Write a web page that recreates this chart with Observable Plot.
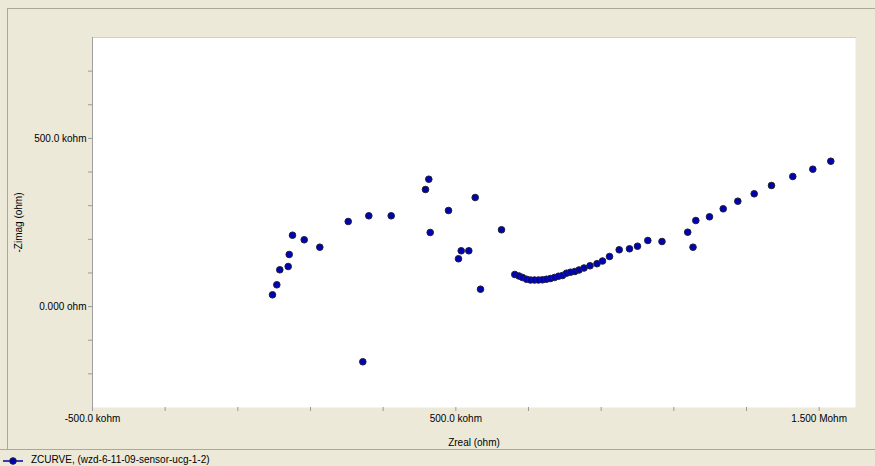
<!DOCTYPE html>
<html>
<head>
<meta charset="utf-8">
<script src="https://cdn.jsdelivr.net/npm/d3@7"></script>
<script src="https://cdn.jsdelivr.net/npm/@observablehq/plot@0.6"></script>
<style>
  html, body { margin: 0; padding: 0; background: #ECE9D8; }
  #wrap { position: relative; width: 875px; height: 466px; overflow: hidden; background: #ECE9D8; font-family: "Liberation Sans", Arial, sans-serif; }
  #frameTop { position: absolute; left: 7px; top: 8px; width: 868px; height: 0; border-top: 1px solid #ACA899; }
  #frameLeft { position: absolute; left: 7px; top: 8px; width: 0; height: 442px; border-left: 1px solid #ACA899; }
  #chart { position: absolute; left: 0; top: 0; }
  #legend { position: absolute; left: 0; top: 449px; width: 875px; height: 17px; border-top: 1px solid #ACA899; font-size: 10px; color: #000; }
  #legend svg { position: absolute; left: 2px; top: 4px; }
  #legend span { position: absolute; left: 31px; top: 4px; white-space: nowrap; }
</style>
</head>
<body>
<div id="wrap">
  <div id="frameTop"></div>
  <div id="frameLeft"></div>
  <div id="chart"></div>
  <div id="legend"></div>
</div>
<script>
// Zreal and -Zimag values in kohm
const zreal = [
  -4.6, 7.3, 15.5, 38.6, 41.4, 50.5, 82.7, 125.6, 203.8, 260.5, 322.1,
  416.5, 425.6, 429.5, 479.8, 507.3, 514.8, 535.7, 553.3, 567.9, 625.7,
  244.0,
  662.3, 673.9, 683.5, 694.5, 705.5, 716.5, 727.5, 738.5, 749.5, 760.6,
  771.6, 782.6, 793.6, 804.6, 815.6, 827.4, 839.0, 852.8, 869.3, 888.5,
  903.7, 923.0,
  949.6, 978.0, 1000.0, 1028.4, 1067.4, 1138.2, 1160.5, 1152.8, 1198.2,
  1235.9, 1276.1, 1321.2, 1368.8, 1427.4, 1482.5, 1532.0
];
const zimagNeg = [
  35.0, 64.8, 109.4, 119.2, 154.9, 212.2, 198.6, 176.6, 253.0, 269.9, 269.9,
  348.1, 378.7, 220.3, 285.7, 142.1, 165.9, 165.9, 324.3, 51.7, 228.3,
  -164.1,
  95.4, 90.9, 86.5, 81.4, 79.0, 79.0, 79.0, 79.6, 81.4, 83.5,
  86.5, 90.3, 92.4, 99.3, 102.2, 104.3, 108.8, 114.7, 121.3, 127.5,
  135.5, 148.9,
  168.8, 171.8, 179.5, 196.5, 193.5, 221.2, 255.9, 176.6, 266.9,
  290.7, 313.3, 335.3, 360.0, 386.8, 408.5, 432.2
];

const xTicks = [-500, -300, -100, 100, 300, 500, 700, 900, 1100, 1300, 1500];
const xLabelTicks = [-500, 500, 1500];
const xTickLabels = ["-500.0 kohm", "500.0 kohm", "1.500 Mohm"];
const yTicks = [-200, -100, 0, 100, 200, 300, 400, 500, 600, 700];
const yLabelTicks = [0, 500];
const yTickLabels = ["0.000 ohm", "500.0 kohm"];
const xTitle = "Zreal (ohm)";
const yTitle = "-Zimag (ohm)";
const seriesName = "ZCURVE, (wzd-6-11-09-sensor-ucg-1-2)";

const data = zreal.map((x, i) => ({x, y: zimagNeg[i]}));
const fmt = (ticks, labels) => d => { const i = ticks.indexOf(d); return i >= 0 ? labels[i] : ""; };

const dotFill = "#0000B4";
const dotStroke = "#202038";

const chart = Plot.plot({
  width: 875,
  height: 449,
  marginLeft: 92,
  marginRight: 20,
  marginTop: 37,
  marginBottom: 42,
  style: { fontFamily: "Liberation Sans, Arial, sans-serif", fontSize: "10px", background: "transparent", color: "#000", overflow: "visible" },
  x: { domain: [-500, 1600] },
  y: { domain: [-300, 800] },
  marks: [
    Plot.frame({ fill: "white", stroke: null }),
    Plot.frame({ anchor: "top", stroke: "#d0d0d0" }),
    Plot.frame({ anchor: "left", stroke: "#a0a0a0" }),
    Plot.axisX({ ticks: xTicks, tickFormat: fmt(xLabelTicks, xTickLabels), tickSize: 4, tickPadding: 3, stroke: "#9a9a9a",
      label: xTitle, labelAnchor: "center", labelArrow: false, labelOffset: 38 }),
    Plot.axisY({ ticks: yTicks, tickFormat: fmt(yLabelTicks, yTickLabels), tickSize: 4, tickPadding: 2, stroke: "#9a9a9a",
      label: yTitle, labelAnchor: "center", labelArrow: false, labelOffset: 78 }),
    Plot.dot(data, { x: "x", y: "y", r: 3.3, fill: dotFill, stroke: dotStroke, strokeWidth: 1 })
  ]
});
document.getElementById("chart").appendChild(chart);

// legend
const lg = document.getElementById("legend");
const ns = "http://www.w3.org/2000/svg";
const sv = document.createElementNS(ns, "svg");
sv.setAttribute("width", 24); sv.setAttribute("height", 12);
const ln = document.createElementNS(ns, "line");
ln.setAttribute("x1", 1); ln.setAttribute("x2", 21); ln.setAttribute("y1", 7); ln.setAttribute("y2", 7);
ln.setAttribute("stroke", "#0000A0"); ln.setAttribute("stroke-width", 1.5);
const ci = document.createElementNS(ns, "circle");
ci.setAttribute("cx", 11); ci.setAttribute("cy", 7); ci.setAttribute("r", 3.3);
ci.setAttribute("fill", dotFill); ci.setAttribute("stroke", dotStroke);
sv.appendChild(ln); sv.appendChild(ci);
lg.appendChild(sv);
const sp = document.createElement("span");
sp.textContent = seriesName;
lg.appendChild(sp);
</script>
</body>
</html>
